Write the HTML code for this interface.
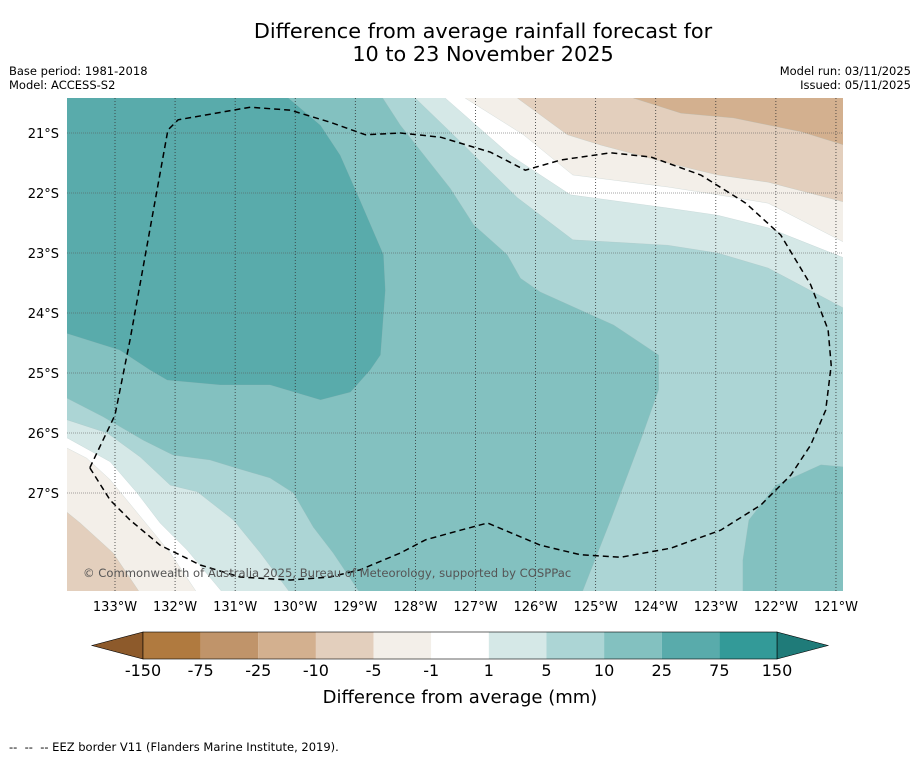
<!DOCTYPE html>
<html><head><meta charset="utf-8"><style>
body{margin:0;background:#fff;font-family:"Liberation Sans","DejaVu Sans",sans-serif;}
svg text{font-family:"DejaVu Sans","Liberation Sans",sans-serif;}
</style></head><body>
<svg id="chart" width="919" height="758" xmlns="http://www.w3.org/2000/svg">
<rect width="919" height="758" fill="#fff"/>
<text x="483" y="38" font-size="20.8" text-anchor="middle">Difference from average rainfall forecast for</text>
<text x="483" y="61" font-size="20.8" text-anchor="middle">10 to 23 November 2025</text>
<text x="9" y="75" font-size="11.5">Base period: 1981-2018</text>
<text x="9" y="89" font-size="11.5">Model: ACCESS-S2</text>
<text x="911" y="75" font-size="11.5" text-anchor="end">Model run: 03/11/2025</text>
<text x="911" y="89" font-size="11.5" text-anchor="end">Issued: 05/11/2025</text>
<defs><clipPath id="pc"><rect x="67" y="98" width="776" height="493"/></clipPath></defs>
<g id="map" clip-path="url(#pc)"></g>
<g id="axes"></g>
<g id="cbar"></g>
<text x="460" y="703" font-size="18" text-anchor="middle">Difference from average (mm)</text>
<text x="9" y="751" font-size="11.5" xml:space="preserve" style="white-space:pre">--  --  -- EEZ border V11 (Flanders Marine Institute, 2019).</text>
</svg>
<script>
// longitude ticks (deg W), latitude ticks (deg S)
const lonTicks=[133,132,131,130,129,128,127,126,125,124,123,122,121];
const latTicks=[21,22,23,24,25,26,27];
const cbLabels=["-150","-75","-25","-10","-5","-1","1","5","10","25","75","150"];
const cbColors=["#b07a3f","#c0946a","#d3b08f","#e3cfbd","#f3efe9","#ffffff","#d5e8e7","#acd5d5","#83c1c0","#59abab","#339a98"];
const cbExtLow="#8d5a2b", cbExtHigh="#1f7b79";
// contour regions as [lonW, latS] pairs
const reg25=[[134,20.3],[128.62,20.3],[128.25,20.87],[127.42,21.92],[127.03,22.53],[126.47,23.03],[126.25,23.42],[125.92,23.65],[124.7,24.2],[123.95,24.7],[123.95,25.28],[124.25,26.12],[124.75,27.45],[125.28,28.8],[134,28.8]];
const reg75=[[134,20.3],[130.25,20.3],[129.58,20.87],[129.25,21.37],[128.92,22.12],[128.53,23.03],[128.5,23.62],[128.58,24.7],[128.75,24.95],[129.08,25.32],[129.58,25.45],[130.42,25.2],[131.25,25.2],[132.13,25.12],[132.42,24.95],[132.92,24.62],[134,24.28]];
const reg25br=[[122.55,28.8],[122.55,28.12],[122.45,27.45],[122,26.87],[121.25,26.53],[120.7,26.58],[120.7,28.8]];
const reg10L=[[134,25.42],[133.8,25.42],[133.2,25.73],[132.53,26.12],[132.03,26.37],[131.42,26.45],[131.03,26.57],[130.42,26.75],[130.03,27],[129.7,27.57],[129.37,28],[128.92,28.67],[128.9,28.8],[134,28.8]];
const reg5L=[[134,25.78],[133.8,25.78],[133.13,26],[132.58,26.4],[132.08,26.87],[131.63,26.98],[131.03,27.45],[130.58,28],[130.08,28.67],[130.05,28.8],[134,28.8]];
const reg1L=[[134,26.08],[133.8,26.08],[133.08,26.48],[132.63,27],[132.25,27.5],[131.8,27.95],[131.2,28.67],[131.15,28.8],[134,28.8]];
const regM1L=[[134,26.25],[133.8,26.25],[133.47,26.42],[133.08,26.78],[132.08,28],[131.63,28.67],[131.6,28.8],[134,28.8]];
const regM5L=[[134,27.32],[133.8,27.32],[133.58,27.5],[133.03,28],[132.58,28.67],[132.55,28.8],[134,28.8]];
const reg1R=[[128,20.3],[128,20.42],[127.42,20.98],[126.3,22.08],[125.38,22.78],[123.8,22.87],[122.97,23],[122.13,23.25],[120.87,23.92],[120.7,23.95],[120.7,20.3]];
const regM1R=[[127.5,20.3],[127.5,20.42],[126.42,21.37],[125.42,22.03],[123.8,22.25],[122.97,22.37],[122.13,22.58],[120.87,23.08],[120.7,23.1],[120.7,20.3]];
const regM5R=[[127.2,20.3],[127.17,20.42],[126.2,21.03],[125.38,21.7],[123.8,21.9],[122.97,22.03],[122.13,22.17],[120.87,22.82],[120.7,22.85],[120.7,20.3]];
const regM10R=[[126.3,20.3],[126.3,20.42],[125.47,21.03],[124.92,21.2],[123.8,21.5],[122.97,21.7],[122.13,21.82],[120.87,22.15],[120.7,22.17],[120.7,20.3]];
const regM25R=[[124.37,20.3],[124.37,20.42],[123.58,20.67],[122.7,20.75],[121.58,20.98],[120.87,21.2],[120.7,21.22],[120.7,20.3]];
const eez=[[133.42,26.58],[133,25.7],[132.75,24.45],[132.42,22.62],[132.12,20.95],[131.95,20.78],[130.75,20.57],[130.08,20.62],[129.42,20.82],[128.83,21.03],[128.25,21],[127.58,21.07],[126.75,21.32],[126.17,21.62],[125.58,21.45],[124.75,21.33],[124.08,21.4],[123.25,21.7],[122.5,22.17],[121.92,22.7],[121.42,23.53],[121.13,24.28],[121.08,24.87],[121.17,25.62],[121.42,26.2],[121.75,26.7],[122.25,27.2],[122.92,27.62],[123.75,27.92],[124.58,28.07],[125.25,28.03],[125.92,27.87],[126.8,27.5],[127.25,27.62],[127.83,27.78],[128.25,28],[128.92,28.28],[129.42,28.4],[130.08,28.45],[130.92,28.4],[131.58,28.2],[132.25,27.87],[132.75,27.45],[133.08,27.12],[133.42,26.58]];

const X=w=>115+(133-w)*60.08;
const Y=s=>133+(s-21)*60;
const NS="http://www.w3.org/2000/svg";
function mk(tag,attrs,parent){const e=document.createElementNS(NS,tag);for(const k in attrs)e.setAttribute(k,attrs[k]);parent.appendChild(e);return e;}
const map=document.getElementById('map');
const bg=mk('rect',{x:67,y:98,width:776,height:493,fill:cbColors[7]},map);


const layers=[[reg25,8,'region-10-to-25'],[reg75,9,'region-25-to-75'],[reg25br,8,'region-10-to-25-southeast'],[reg10L,7,'region-5-to-10-southwest'],[reg5L,6,'region-1-to-5-southwest'],[reg1L,5,'region-neutral-southwest'],[regM1L,4,'region-minus-1-to-5-southwest'],[regM5L,3,'region-minus-5-to-10-southwest'],[reg1R,6,'region-1-to-5-northeast'],[regM1R,5,'region-neutral-northeast'],[regM5R,4,'region-minus-1-to-5-northeast'],[regM10R,3,'region-minus-5-to-10-northeast'],[regM25R,2,'region-minus-10-to-25-northeast']];
layers.forEach(([pts,ci,name])=>{
  const p=mk('polygon',{points:pts.map(q=>X(q[0]).toFixed(1)+','+Y(q[1]).toFixed(1)).join(' '),fill:cbColors[ci],stroke:'#9fb9b8','stroke-width':0.4,'stroke-opacity':0.5},map);
  
  
});
lonTicks.forEach(w=>{
  const l=mk('line',{x1:X(w),x2:X(w),y1:98,y2:591,stroke:'#333','stroke-width':0.8,'stroke-dasharray':'1,2'},map);
  
  
});
latTicks.forEach(s=>{
  const l=mk('line',{x1:67,x2:843,y1:Y(s),y2:Y(s),stroke:'#555','stroke-width':0.8,'stroke-dasharray':'1,1','stroke-opacity':0.7},map);
  
  
});
const ez=mk('polyline',{points:eez.map(q=>X(q[0]).toFixed(1)+','+Y(q[1]).toFixed(1)).join(' '),fill:'none',stroke:'#000','stroke-width':1.5,'stroke-dasharray':'6,4'},map);


const cp=mk('text',{x:83,y:577,'font-size':11.6,fill:'#555'},map);
cp.textContent='© Commonwealth of Australia 2025, Bureau of Meteorology, supported by COSPPac';



const axes=document.getElementById('axes');
lonTicks.forEach(w=>{
  const t=mk('text',{x:X(w),y:611,'font-size':13,'text-anchor':'middle'},axes);
  t.textContent=w+'°W';
  
  
});
latTicks.forEach(s=>{
  const t=mk('text',{x:59,y:Y(s)+5,'font-size':13,'text-anchor':'end'},axes);
  t.textContent=s+'°S';
  
  
});

const cb=document.getElementById('cbar');
const x0=143,x1=777,yT=632,h=27,bw=(x1-x0)/cbColors.length;
const lo=mk('polygon',{points:`${x0},${yT} ${x0},${yT+h} 92,${yT+h/2}`,fill:cbExtLow,stroke:'#000','stroke-width':0.6},cb);


const hi=mk('polygon',{points:`${x1},${yT} ${x1},${yT+h} 828,${yT+h/2}`,fill:cbExtHigh,stroke:'#000','stroke-width':0.6},cb);


cbColors.forEach((c,i)=>{
  const r=mk('rect',{x:x0+i*bw,y:yT,width:bw,height:h,fill:c},cb);
  
  
});
mk('rect',{x:x0,y:yT,width:x1-x0,height:h,fill:'none',stroke:'#000','stroke-width':0.6},cb);
cbLabels.forEach((lb,i)=>{
  const t=mk('text',{x:x0+i*bw,y:676,'font-size':16,'text-anchor':'middle'},cb);
  t.textContent=lb;
  
  
});
</script>
</body></html>
